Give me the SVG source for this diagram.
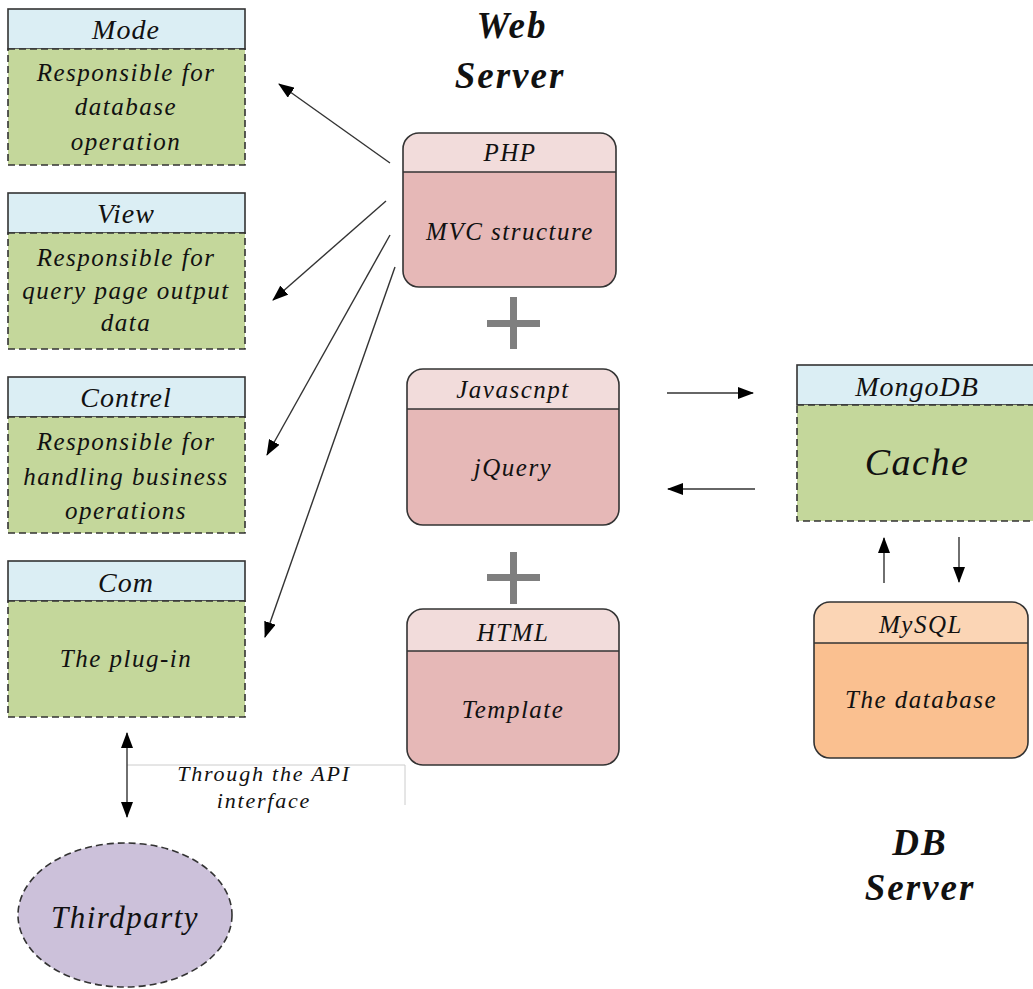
<svg xmlns="http://www.w3.org/2000/svg" width="1033" height="989" viewBox="0 0 1033 989">
<style>
text{font-family:"Liberation Serif","Times New Roman",serif;font-style:italic;fill:#111;text-anchor:middle}
.hd{fill:#dbeef4;stroke:#333;stroke-width:1.6}
.bd{fill:#c4d79b;stroke:#333;stroke-width:1.6;stroke-dasharray:7 4}
.ph{fill:#f2dcdb}
.pb{fill:#e6b8b7}
.out{fill:none;stroke:#333;stroke-width:1.6}
.h26{font-size:28px;letter-spacing:1px}
.b24{font-size:25px;letter-spacing:1.5px}
.ttl{font-size:37px;font-weight:bold;letter-spacing:2px}
.conn{stroke:#333;stroke-width:1.4;fill:none}
.plus{fill:#7f7f7f}
</style>
<defs>
<marker id="ah" viewBox="0 0 16 12" refX="15" refY="6" markerWidth="16" markerHeight="12" markerUnits="userSpaceOnUse" orient="auto-start-reverse">
<path d="M0,0 L16,6 L0,12 Z" fill="#000"/>
</marker>
</defs>

<text class="ttl" x="512" y="38">Web</text>
<text class="ttl" x="510" y="88">Server</text>
<text class="ttl" x="920" y="855">DB</text>
<text class="ttl" x="920" y="900">Server</text>

<g id="mode">
<rect class="hd" x="8" y="9" width="237" height="40"/>
<rect class="bd" x="8" y="49" width="237" height="116"/>
<text class="h26" x="126" y="39">Mode</text>
<text class="b24" x="126" y="81">Responsible for</text>
<text class="b24" x="126" y="115">database</text>
<text class="b24" x="126" y="150">operation</text>
</g>

<g id="view">
<rect class="hd" x="8" y="193" width="237" height="40"/>
<rect class="bd" x="8" y="233" width="237" height="116"/>
<text class="h26" x="126" y="223">View</text>
<text class="b24" x="126" y="266">Responsible for</text>
<text class="b24" x="126" y="299">query page output</text>
<text class="b24" x="126" y="331">data</text>
</g>

<g id="contrel">
<rect class="hd" x="8" y="377" width="237" height="40"/>
<rect class="bd" x="8" y="417" width="237" height="116"/>
<text class="h26" x="126" y="407">Contrel</text>
<text class="b24" x="126" y="450">Responsible for</text>
<text class="b24" x="126" y="485">handling business</text>
<text class="b24" x="126" y="519">operations</text>
</g>

<g id="com">
<rect class="hd" x="8" y="561" width="237" height="40"/>
<rect class="bd" x="8" y="601" width="237" height="116"/>
<text class="h26" x="126" y="592">Com</text>
<text class="b24" x="126" y="667">The plug-in</text>
</g>

<g id="php">
<path class="ph" d="M419,133 H600 A16,16 0 0 1 616,149 V172 H403 V149 A16,16 0 0 1 419,133 Z"/>
<path class="pb" d="M403,172 H616 V271 A16,16 0 0 1 600,287 H419 A16,16 0 0 1 403,271 Z"/>
<rect class="out" x="403" y="133" width="213" height="154" rx="16"/>
<line class="out" x1="403" y1="172" x2="616" y2="172"/>
<text class="b24" x="510" y="161">PHP</text>
<text class="b24" x="510" y="240">MVC structure</text>
</g>

<g id="plus1">
<rect class="plus" x="487" y="320" width="53" height="7"/>
<rect class="plus" x="510" y="297" width="7" height="52"/>
</g>

<g id="javascript">
<path class="ph" d="M423,369 H603 A16,16 0 0 1 619,385 V409 H407 V385 A16,16 0 0 1 423,369 Z"/>
<path class="pb" d="M407,409 H619 V509 A16,16 0 0 1 603,525 H423 A16,16 0 0 1 407,509 Z"/>
<rect class="out" x="407" y="369" width="212" height="156" rx="16"/>
<line class="out" x1="407" y1="409" x2="619" y2="409"/>
<text class="b24" x="513" y="398">Javascnpt</text>
<text class="b24" x="513" y="476">jQuery</text>
</g>

<g id="plus2">
<rect class="plus" x="487" y="574" width="53" height="7"/>
<rect class="plus" x="510" y="552" width="7" height="52"/>
</g>

<g id="html">
<path class="ph" d="M423,609 H603 A16,16 0 0 1 619,625 V651 H407 V625 A16,16 0 0 1 423,609 Z"/>
<path class="pb" d="M407,651 H619 V749 A16,16 0 0 1 603,765 H423 A16,16 0 0 1 407,749 Z"/>
<rect class="out" x="407" y="609" width="212" height="156" rx="16"/>
<line class="out" x1="407" y1="651" x2="619" y2="651"/>
<text class="b24" x="513" y="641">HTML</text>
<text class="b24" x="513" y="718">Template</text>
</g>

<g id="mongodb">
<rect class="hd" x="797" y="365" width="240" height="40"/>
<rect class="bd" x="797" y="405" width="240" height="116"/>
<text class="h26" x="917" y="396">MongoDB</text>
<text x="917" y="475" style="font-size:38px;letter-spacing:1.5px">Cache</text>
</g>

<g id="mysql">
<path fill="#fbd5b5" d="M830,602 H1012 A16,16 0 0 1 1028,618 V643 H814 V618 A16,16 0 0 1 830,602 Z"/>
<path fill="#fac090" d="M814,643 H1028 V742 A16,16 0 0 1 1012,758 H830 A16,16 0 0 1 814,742 Z"/>
<rect class="out" x="814" y="602" width="214" height="156" rx="16"/>
<line class="out" x1="814" y1="643" x2="1028" y2="643"/>
<text class="b24" x="921" y="633">MySQL</text>
<text class="b24" x="921" y="708">The database</text>
</g>

<g id="thirdparty">
<ellipse cx="125" cy="915" rx="107" ry="72" fill="#ccc1da" stroke="#333" stroke-width="1.6" stroke-dasharray="7 4"/>
<text x="125" y="928" style="font-size:31px;letter-spacing:1.5px">Thirdparty</text>
</g>

<g id="connectors">
<line class="conn" x1="390" y1="163" x2="279" y2="84" marker-end="url(#ah)"/>
<line class="conn" x1="386" y1="201" x2="273" y2="300" marker-end="url(#ah)"/>
<line class="conn" x1="390" y1="235" x2="267" y2="455" marker-end="url(#ah)"/>
<line class="conn" x1="395" y1="267" x2="265" y2="637" marker-end="url(#ah)"/>
<line class="conn" x1="667" y1="393" x2="753" y2="393" marker-end="url(#ah)"/>
<line class="conn" x1="755" y1="489" x2="668" y2="489" marker-end="url(#ah)"/>
<line class="conn" x1="884" y1="583" x2="884" y2="538" marker-end="url(#ah)"/>
<line class="conn" x1="959" y1="537" x2="959" y2="582" marker-end="url(#ah)"/>
<polyline points="127,765 405,765 405,805" fill="none" stroke="#ccc" stroke-width="1"/>
<line class="conn" x1="127" y1="733" x2="127" y2="817" marker-start="url(#ah)" marker-end="url(#ah)"/>
<text x="264" y="781" style="font-size:22px;letter-spacing:1.8px">Through the API</text>
<text x="264" y="808" style="font-size:22px;letter-spacing:1.8px">interface</text>
</g>
</svg>
